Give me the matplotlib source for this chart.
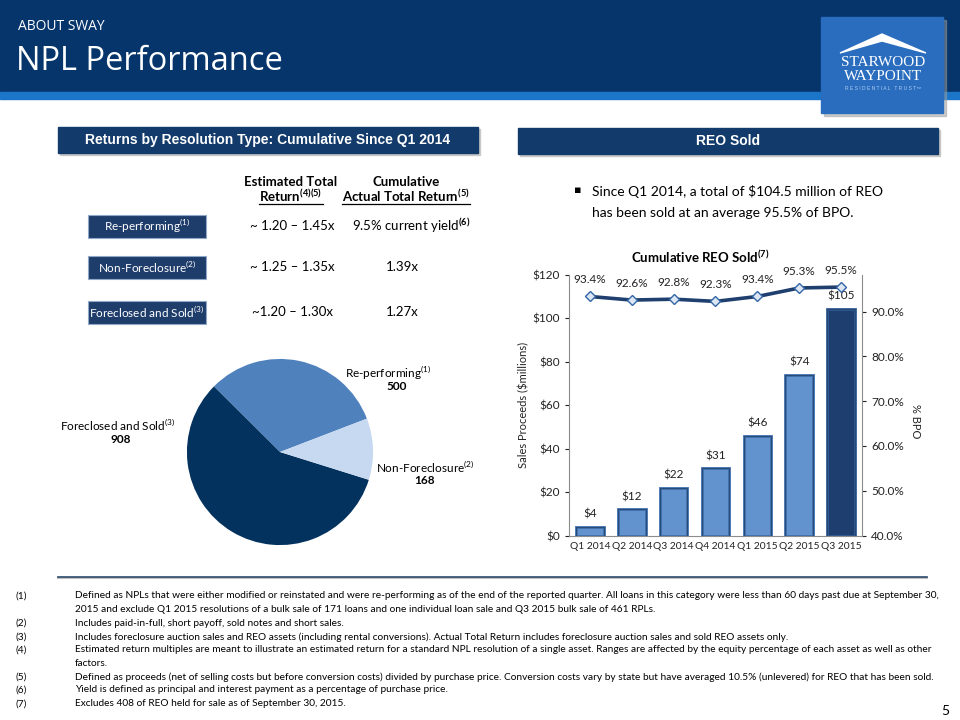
import matplotlib
matplotlib.use('Agg')
import matplotlib.pyplot as plt
from matplotlib.patches import Rectangle, Polygon
from matplotlib.lines import Line2D
from matplotlib.ticker import FuncFormatter, FixedLocator

# ---------------- data ----------------
quarters = ['Q1 2014', 'Q2 2014', 'Q3 2014', 'Q4 2014', 'Q1 2015', 'Q2 2015', 'Q3 2015']
proceeds = [4, 12, 22, 31, 46, 74, 104.5]
proceeds_labels = ['$4', '$12', '$22', '$31', '$46', '$74', '$105']
bpo_pct = [93.4, 92.6, 92.8, 92.3, 93.4, 95.3, 95.5]
left_ticks = [0, 20, 40, 60, 80, 100, 120]
right_ticks = [40, 50, 60, 70, 80, 90]

pie_labels = ['Re-performing', 'Foreclosed and Sold', 'Non-Foreclosure']
pie_notes = ['(1)', '(3)', '(2)']
pie_values = [500, 908, 168]

row_labels = ['Re-performing', 'Non-Foreclosure', 'Foreclosed and Sold']
row_notes = ['(1)', '(2)', '(3)']
est_return = ['~ 1.20 \u2013 1.45x', '~ 1.25 \u2013 1.35x', '~1.20 \u2013 1.30x']
actual_return = ['9.5% current yield', '1.39x', '1.27x']
actual_notes = ['(6)', '', '']

footnote_nums = ['(1)', '', '(2)', '(3)', '(4)', '', '(5)', '(6)', '(7)']
footnote_lines = [
    'Defined as NPLs that were either modified or reinstated and were re-performing as of the end of the reported quarter. All loans in this category were less than 60 days past due at September 30,',
    '2015 and exclude Q1 2015 resolutions of a bulk sale of 171 loans and one individual loan sale and Q3 2015 bulk sale of 461 RPLs.',
    'Includes paid-in-full, short payoff, sold notes and short sales.',
    'Includes foreclosure auction sales and REO assets (including rental conversions). Actual Total Return includes foreclosure auction sales and sold REO assets only.',
    'Estimated return multiples are meant to illustrate an estimated return for a standard NPL resolution of a single asset. Ranges are affected by the equity percentage of each asset as well as other',
    'factors.',
    'Defined as proceeds (net of selling costs but before conversion costs) divided by purchase price. Conversion costs vary by state but have averaged 10.5% (unlevered) for REO that has been sold.',
    'Yield is defined as principal and interest payment as a percentage of purchase price.',
    'Excludes 408 of REO held for sale as of September 30, 2015.',
]

# ---------------- style ----------------
W, H = 960, 720
BODY = ['Lato', 'DejaVu Sans']
HEAD = ['Open Sans', 'DejaVu Sans']
ARIAL = ['Liberation Sans', 'DejaVu Sans']
NAVY = '#05356A'
BAR_NAVY = '#123B6B'
plt.rcParams['font.family'] = BODY
plt.rcParams['mathtext.fontset'] = 'custom'
plt.rcParams['mathtext.rm'] = 'Lato'
plt.rcParams['mathtext.bf'] = 'Lato:bold'


def fx(x):
    return x / W


def fy(y):
    return 1 - y / H


def sup(s):
    return '$^{\\mathregular{%s}}$' % s if s else ''


fig = plt.figure(figsize=(9.6, 7.2), dpi=100)


def T(x, y, s, **kw):
    kw.setdefault('ha', 'left')
    kw.setdefault('va', 'center')
    return fig.text(fx(x), fy(y), s, **kw)


def R(x0, y0, x1, y1, **kw):
    r = Rectangle((fx(x0), fy(y1)), (x1 - x0) / W, (y1 - y0) / H,
                  transform=fig.transFigure, **kw)
    fig.patches.append(r)
    return r


# ---------------- header ----------------
R(0, 0, 960, 93, color=NAVY, zorder=1)
R(0, 92, 960, 99, color='#1B76C9', zorder=1)
T(18, 27, 'ABOUT SWAY', color='white', fontsize=10, family=HEAD)
T(16, 61, 'NPL Performance', color='white', fontsize=23.5, family=HEAD)

# logo
R(824, 20, 946, 116, color='#9A9A9A', alpha=0.5, zorder=2)
R(821, 17, 943, 113, color='#2A6DBE', zorder=3)
roof = Polygon([(fx(840), fy(53)), (fx(882), fy(34)), (fx(926), fy(53)), (fx(882), fy(41))],
               closed=True, transform=fig.transFigure, color='white', zorder=4)
fig.patches.append(roof)
T(883, 62, 'STARWOOD', ha='center', color='white', fontsize=11, family=['Liberation Serif'], zorder=5)
T(883, 76, 'WAYPOINT', ha='center', color='white', fontsize=11, family=['Liberation Serif'], zorder=5)
T(883, 89, 'R E S I D E N T I A L   T R U S T\u2122', ha='center', color='#A9CBEF', fontsize=3.6,
  family=ARIAL, zorder=5)

# ---------------- section bars ----------------
R(60, 129, 480, 155, color='#C8C8C8', zorder=1)
R(58, 127, 478, 153, color=BAR_NAVY, zorder=2)
T(268, 140, 'Returns by Resolution Type: Cumulative Since Q1 2014', ha='center', color='white',
  fontsize=10, weight='bold', family=ARIAL, zorder=3)
R(520, 130, 940, 156, color='#C8C8C8', zorder=1)
R(518, 128, 938, 154, color=BAR_NAVY, zorder=2)
T(728, 141, 'REO Sold', ha='center', color='white', fontsize=10, weight='bold', family=ARIAL, zorder=3)

# ---------------- table ----------------
T(291, 182, 'Estimated Total', ha='center', fontsize=9.5, weight='bold')
t_h1 = T(291, 196, 'Return' + '$^{\\mathbf{(4)(5)}}$', ha='center', fontsize=9.5, weight='bold')
T(406, 182, 'Cumulative', ha='center', fontsize=9.5, weight='bold')
t_h2 = T(406, 196, 'Actual Total Return' + '$^{\\mathbf{(5)}}$', ha='center', fontsize=9.5, weight='bold')

row_y = [226, 267, 312]
for lab, note, est, act, anote, y in zip(row_labels, row_notes, est_return, actual_return, actual_notes, row_y):
    R(88, y - 11.5, 206, y + 11.5, facecolor='#1F3D6B', edgecolor='#8FA8C8', linewidth=0.8, zorder=2)
    T(147, y, lab + sup(note), ha='center', color='white', fontsize=8.5, zorder=3)
    T(292, y, est, ha='center', fontsize=9.5)
    T(411 if anote else 402, y, act + ('$^{\\mathbf{%s}}$' % anote if anote else ''), ha='center', fontsize=9.5)

# ---------------- pie ----------------
axp = fig.add_axes([fx(186), fy(546), 188 / W, 188 / H])
axp.pie(pie_values, colors=['#4F81BD', '#04325E', '#C6D9F1'], startangle=21, counterclock=True,
        radius=1.0, wedgeprops=dict(linewidth=0))
axp.set_xlim(-1.01, 1.01)
axp.set_ylim(-1.01, 1.01)
axp.set_aspect('equal')
axp.axis('off')

pie_label_pos = [(388, 373, 397, 387), (118, 425, 121, 439), (425, 467, 425, 480)]
for lab, note, val, (lx, ly, vx, vy) in zip(pie_labels, pie_notes, pie_values, pie_label_pos):
    T(lx, ly, lab + sup(note), ha='center', fontsize=8.5)
    T(vx, vy, str(val), ha='center', fontsize=8.5, weight='bold')

# ---------------- bullet ----------------
T(578, 190, '\u25aa', ha='center', fontsize=8, family=['DejaVu Sans'])
T(592, 191, 'Since Q1 2014, a total of $104.5 million of REO', fontsize=10)
T(592, 213, 'has been sold at an average 95.5% of BPO.', fontsize=10)

# ---------------- bar/line chart ----------------
T(700, 257, 'Cumulative REO Sold' + '$^{\\mathbf{(7)}}$', ha='center', fontsize=9.5, weight='bold')

ax = fig.add_axes([fx(569), fy(535.5), (862 - 569) / W, (535.5 - 275) / H])
xs = list(range(len(quarters)))
face = ['#6293CF'] * (len(quarters) - 1) + ['#1E3E70']
edge = ['#3D6CAC'] * (len(quarters) - 1) + ['#2F5996']
ax.bar(xs, proceeds, width=0.66, color=face, edgecolor=edge, linewidth=2.0, zorder=2)
ax.bar(xs, proceeds, width=0.66, color='none', edgecolor='#24466F', linewidth=0.6, zorder=3)
for i, (v, lab) in enumerate(zip(proceeds, proceeds_labels)):
    ax.annotate(lab, (i, v), xytext=(0, 5), textcoords='offset points', ha='center', va='bottom',
                fontsize=8.5, color='#222222')
ax.set_xlim(-0.5, len(quarters) - 0.5)
ax.set_ylim(0, 120)
ax.yaxis.set_major_locator(FixedLocator(left_ticks))
ax.yaxis.set_major_formatter(FuncFormatter(lambda v, p: '$%d' % v))
ax.set_xticks(xs)
ax.set_xticklabels(quarters)
ax.tick_params(axis='y', labelsize=8.5, colors='#222222', length=3, width=0.8)
ax.tick_params(axis='x', labelsize=7.4, colors='#222222', length=0, pad=5)
for s in ['top', 'right']:
    ax.spines[s].set_visible(False)
for s in ['left', 'bottom']:
    ax.spines[s].set_color('#8C8C8C')
ax.set_ylabel('Sales Proceeds ($millions)', fontsize=8, color='#222222')
ax.yaxis.set_label_coords(-0.135, 0.5)

ax2 = ax.twinx()
ax2.plot(xs, bpo_pct, color='#1F3F6E', linewidth=2.6, marker='D', markersize=5.5,
         markerfacecolor='#DDE7F3', markeredgecolor='#3467A8', markeredgewidth=1.0, zorder=4)
for i, p in enumerate(bpo_pct):
    ax2.annotate('%.1f%%' % p, (i, p), xytext=(0, 8), textcoords='offset points', ha='center',
                 va='bottom', fontsize=8.5, color='#222222')
ax2.set_ylim(40, 98.2)
ax2.yaxis.set_major_locator(FixedLocator(right_ticks))
ax2.yaxis.set_major_formatter(FuncFormatter(lambda v, p: '%.1f%%' % v))
ax2.tick_params(axis='y', labelsize=8.5, colors='#222222', length=3, width=0.8)
for s in ['top', 'left', 'bottom']:
    ax2.spines[s].set_visible(False)
ax2.spines['right'].set_color('#8C8C8C')
ax2.set_ylabel('% BPO', rotation=270, fontsize=8, color='#222222')
ax2.yaxis.set_label_coords(1.2, 0.44)

# ---------------- separator & footnotes ----------------
fig.add_artist(Line2D([fx(58), fx(927)], [fy(578), fy(578)], color='#C0C0C0', linewidth=1.5))
fig.add_artist(Line2D([fx(58), fx(927)], [fy(576.5), fy(576.5)], color='#2B4A6E', linewidth=1.2))

fn_y = [596, 610, 623, 637, 650, 664, 677, 690, 704]
FN = ['Liberation Sans Narrow', 'Lato', 'DejaVu Sans']
num_objs, line_objs = [], []
for num, line, y in zip(footnote_nums, footnote_lines, fn_y):
    if num:
        num_objs.append(T(16, y, num, fontsize=7.5, family=FN))
    line_objs.append(T(75, y, line, fontsize=7.5, family=FN))

T(945, 711, '5', ha='center', fontsize=10)

# fit footnote width & underlines
fig.canvas.draw()
r = fig.canvas.get_renderer()
wid = line_objs[0].get_window_extent(r).width
scale = 860.0 / wid
for t in line_objs + num_objs:
    t.set_fontsize(7.5 * scale)

for t in (t_h1, t_h2):
    bb = t.get_window_extent(r)
    fig.add_artist(Line2D([bb.x0 / W, bb.x1 / W], [(bb.y0 + 0.5) / H, (bb.y0 + 0.5) / H],
                          color='black', linewidth=0.9))

fig.savefig('out.png', dpi=100)
